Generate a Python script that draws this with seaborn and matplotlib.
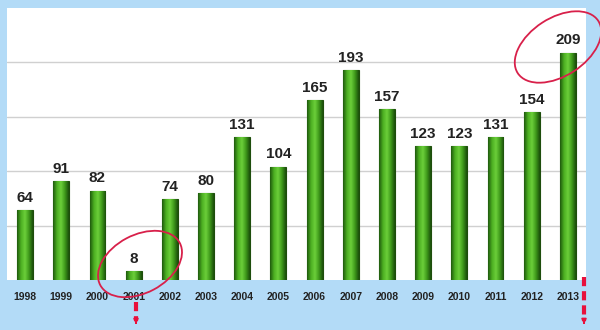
import matplotlib
matplotlib.use("Agg")
import matplotlib.pyplot as plt
import seaborn as sns
import numpy as np
import pandas as pd
from matplotlib.patches import Ellipse
from matplotlib.colors import LinearSegmentedColormap

years = ["1998", "1999", "2000", "2001", "2002", "2003", "2004", "2005",
         "2006", "2007", "2008", "2009", "2010", "2011", "2012", "2013"]
values = [64, 91, 82, 8, 74, 80, 131, 104, 165, 193, 157, 123, 123, 131, 154, 209]

df = pd.DataFrame({"year": years, "value": values})

sns.set_theme(style="white")
plt.rcParams['font.family'] = ['Liberation Sans', 'DejaVu Sans']

fig = plt.figure(figsize=(6, 3.3), dpi=100)
fig.patch.set_facecolor("#b3dbf7")
ax = fig.add_axes([7/600, 1-280/330, 579/600, 272/330])
ax.set_facecolor("white")

sns.barplot(data=df, x="year", y="value", ax=ax, color="#3d9b1c",
            width=0.44, edgecolor="#1e4d0c", linewidth=0.8, zorder=3)

ax.set_ylim(0, 250)
ax.set_xlim(-0.5, len(years) - 0.5)
ax.set_yticks([50, 100, 150, 200])
ax.yaxis.grid(True, color="#d0d0d0", linewidth=1, zorder=0)
ax.set_yticklabels([])
ax.tick_params(axis="y", length=0)
ax.tick_params(axis="x", length=0, pad=9)
for lab in ax.get_xticklabels():
    lab.set_fontsize(7.5)
    lab.set_fontweight("bold")
    lab.set_color("#222222")
ax.set_xlabel("")
ax.set_ylabel("")
for s in ax.spines.values():
    s.set_visible(False)

cmap = LinearSegmentedColormap.from_list(
    "g", ["#1f5a0d", "#4caf22", "#6ccf3a", "#3f9a1b", "#1b4f0b"])
grad = np.linspace(0, 1, 64).reshape(1, -1)
for p in ax.patches:
    x0, y0 = p.get_x(), p.get_y()
    w, h = p.get_width(), p.get_height()
    im = ax.imshow(grad, cmap=cmap, aspect="auto",
                   extent=[x0, x0 + w, y0, y0 + h], zorder=3.5)
    im.set_clip_path(p)

for i, v in enumerate(values):
    ax.text(i, v + 5, str(v), ha="center", va="bottom", fontsize=11,
            fontweight="bold", color="#222222", zorder=5)

ax.set_xlim(-0.5, len(years) - 0.5)
ax.set_ylim(0, 250)

red = "#d8204a"
def px(x, y):
    return (x / 100.0, (330 - y) / 100.0)

e1 = Ellipse(px(140, 264), 90/100, 58/100, angle=28, fill=False,
             edgecolor=red, linewidth=1.3, transform=fig.dpi_scale_trans,
             zorder=10)
e2 = Ellipse(px(558, 47), 96/100, 58/100, angle=33, fill=False,
             edgecolor=red, linewidth=1.3, transform=fig.dpi_scale_trans,
             zorder=10)
fig.patches.extend([e1, e2])

arrowred = "#e8103c"
for (xp, y0, y1) in [(136, 302, 327), (584, 277, 327)]:
    xa, ya0 = px(xp, y0)
    _, ya1 = px(xp, y1)
    fig.add_artist(plt.Line2D([xa, xa], [ya0, ya1 + 0.06], color=arrowred,
                              linewidth=3, linestyle=(0, (2.2, 1.2)),
                              transform=fig.dpi_scale_trans))
    ax.annotate("", xy=(xa, ya1), xytext=(xa, ya1 + 0.07),
                xycoords=fig.dpi_scale_trans, textcoords=fig.dpi_scale_trans,
                arrowprops=dict(arrowstyle="-|>", color=arrowred, lw=1.2,
                                mutation_scale=7),
                annotation_clip=False)

fig.savefig("out.png", dpi=100, facecolor=fig.get_facecolor())
